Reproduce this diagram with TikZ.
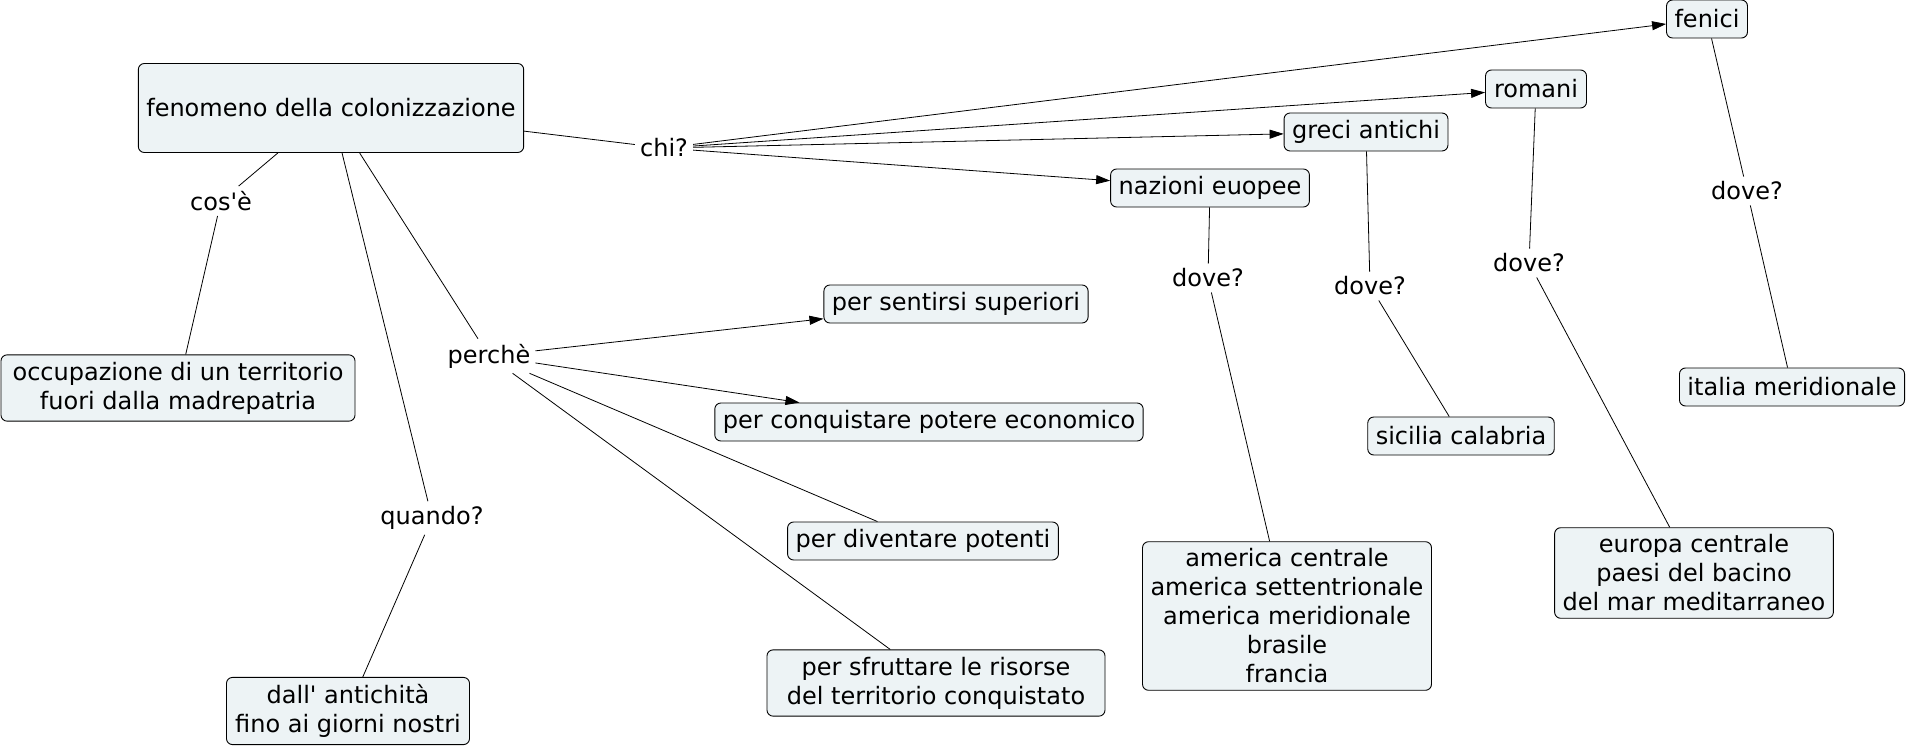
\documentclass[tikz,border=0pt]{standalone}
\usepackage{fontspec}
\newfontfamily\dv{DejaVu Sans}
\usetikzlibrary{arrows.meta}
\definecolor{boxfill}{RGB}{237,243,245}
\begin{document}
\begin{tikzpicture}[x=1pt,y=-1pt,
  font=\dv\fontsize{24}{29}\selectfont,
  box/.style={draw, rounded corners=6pt, fill=boxfill, align=center, inner xsep=8pt, inner ysep=7pt, line width=0.9pt, minimum height=38pt},
  lbl/.style={inner sep=5pt},
  con/.style={line width=0.8pt},
  arr/.style={con, -{Triangle[length=14pt,width=9pt]}}]
\useasboundingbox (0,0) rectangle (1906,749);
\node[box, minimum width=383pt, minimum height=89pt] (fen) at (331,108) {fenomeno della colonizzazione};
\node[lbl] (chi) at (664,148) {chi?};
\node[box, minimum width=78pt] (fenici) at (1707,19) {fenici};
\node[box, minimum width=101pt] (romani) at (1536,89) {romani};
\node[box, minimum width=163pt] (greci) at (1366,132) {greci antichi};
\node[box, minimum width=197pt] (naz) at (1210,188) {nazioni euopee};
\node[lbl] (cose) at (221,201) {cos'è};
\node[box, minimum width=354pt] (occ) at (178,388) {occupazione di un territorio\\fuori dalla madrepatria};
\node[lbl] (perche) at (489,356) {perchè};
\node[lbl] (quando) at (432,518) {quando?};
\node[box, minimum width=243pt] (dall) at (348,711) {dall' antichità\\fino ai giorni nostri};
\node[box, minimum width=264pt] (sent) at (956,304) {per sentirsi superiori};
\node[box, minimum width=427pt] (conq) at (929,422) {per conquistare potere economico};
\node[box, minimum width=270pt] (div) at (923,541) {per diventare potenti};
\node[box, minimum width=338pt] (sfr) at (936,683) {per sfruttare le risorse\\del territorio conquistato};
\node[lbl] (d1) at (1208,278) {dove?};
\node[box, minimum width=287pt] (amer) at (1287,616) {america centrale\\america settentrionale\\america meridionale\\brasile\\francia};
\node[lbl] (d2) at (1370,286) {dove?};
\node[box, minimum width=185pt] (sic) at (1461,436) {sicilia calabria};
\node[lbl] (d3) at (1529,263) {dove?};
\node[box, minimum width=278pt] (eur) at (1694,573) {europa centrale\\paesi del bacino\\del mar meditarraneo};
\node[lbl] (d4) at (1747,191) {dove?};
\node[box, minimum width=223pt] (ita) at (1792,387) {italia meridionale};
% connectors
\draw[con] (fen) -- (chi);
\draw[arr] (chi) -- (fenici);
\draw[arr] (chi) -- (romani);
\draw[arr] (chi) -- (greci);
\draw[arr] (chi) -- (naz);
\draw[con] (fen) -- (cose);
\draw[con] (cose) -- (occ);
\draw[con] (fen) -- (quando);
\draw[con] (quando) -- (dall);
\draw[con] (fen) -- (perche);
\draw[arr] (perche) -- (sent);
\draw[arr] (perche) -- (conq);
\draw[con] (perche) -- (div);
\draw[con] (perche) -- (sfr);
\draw[con] (naz) -- (d1);
\draw[con] (d1) -- (amer);
\draw[con] (greci) -- (d2);
\draw[con] (d2) -- (sic);
\draw[con] (romani) -- (d3);
\draw[con] (d3) -- (eur);
\draw[con] (fenici) -- (d4);
\draw[con] (d4) -- (ita);
\end{tikzpicture}
\end{document}
